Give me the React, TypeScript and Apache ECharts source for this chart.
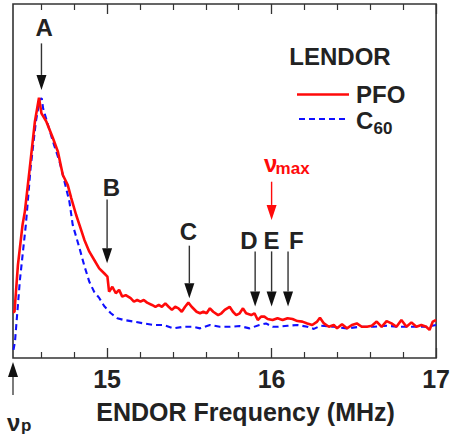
import React, { useEffect, useRef } from "react";
import * as echarts from "echarts";

// ENDOR frequency (MHz) and normalised intensity
const pfoFreq = [
  14.428, 14.437, 14.458, 14.486, 14.5, 14.53, 14.561, 14.586, 14.601, 14.631,
  14.671, 14.701, 14.731, 14.761, 14.782, 14.812, 14.832, 14.862, 14.892, 14.922,
  14.952, 14.982, 15.002, 15.012, 15.032, 15.053, 15.073, 15.092, 15.113, 15.143,
  15.163, 15.183, 15.203, 15.223, 15.243, 15.273, 15.294, 15.314, 15.333, 15.354,
  15.374, 15.394, 15.414, 15.434, 15.454, 15.474, 15.494, 15.514, 15.544, 15.565,
  15.585, 15.605, 15.625, 15.645, 15.675, 15.695, 15.715, 15.745, 15.765, 15.785,
  15.806, 15.826, 15.845, 15.876, 15.896, 15.916, 15.936, 15.956, 15.976, 16.006,
  16.036, 16.067, 16.097, 16.127, 16.157, 16.187, 16.217, 16.247, 16.277, 16.294,
  16.318, 16.348, 16.378, 16.398, 16.428, 16.458, 16.488, 16.518, 16.548, 16.579,
  16.609, 16.639, 16.669, 16.699, 16.729, 16.759, 16.789, 16.82, 16.85, 16.88,
  16.91, 16.94, 16.96, 16.98, 17.0,
];
const pfoIntensity = [
  0.177, 0.177, 0.358, 0.512, 0.563, 0.731, 0.909, 1.001, 0.941, 0.909,
  0.845, 0.793, 0.704, 0.665, 0.615, 0.55, 0.512, 0.454, 0.409, 0.377,
  0.345, 0.326, 0.313, 0.255, 0.274, 0.249, 0.262, 0.236, 0.242, 0.23,
  0.217, 0.223, 0.217, 0.223, 0.213, 0.204, 0.197, 0.204, 0.197, 0.21,
  0.197, 0.185, 0.197, 0.191, 0.178, 0.197, 0.213, 0.197, 0.178, 0.172,
  0.178, 0.172, 0.191, 0.178, 0.165, 0.172, 0.185, 0.197, 0.178, 0.165,
  0.172, 0.191, 0.172, 0.165, 0.172, 0.146, 0.159, 0.159, 0.15, 0.146,
  0.153, 0.146, 0.153, 0.15, 0.142, 0.14, 0.133, 0.127, 0.14, 0.155,
  0.133, 0.12, 0.127, 0.114, 0.13, 0.114, 0.127, 0.133, 0.12, 0.12,
  0.124, 0.14, 0.12, 0.142, 0.133, 0.12, 0.146, 0.12, 0.137, 0.12,
  0.127, 0.12, 0.108, 0.14, 0.146,
];
const c60Freq = [
  14.431, 14.44, 14.47, 14.506, 14.535, 14.567, 14.591, 14.603, 14.611, 14.641,
  14.671, 14.711, 14.751, 14.771, 14.791, 14.832, 14.862, 14.892, 14.922, 14.952,
  14.982, 15.023, 15.062, 15.103, 15.163, 15.223, 15.283, 15.343, 15.404, 15.464,
  15.524, 15.565, 15.625, 15.685, 15.745, 15.806, 15.866, 15.926, 15.966, 16.006,
  16.036, 16.097, 16.157, 16.217, 16.257, 16.297, 16.378, 16.458, 16.538, 16.619,
  16.699, 16.779, 16.86, 16.94, 17.0,
];
const c60Intensity = [
  0.031, 0.063, 0.3, 0.512, 0.731, 0.909, 0.996, 0.998, 0.96, 0.896,
  0.832, 0.755, 0.653, 0.601, 0.512, 0.423, 0.354, 0.293, 0.254, 0.231,
  0.2, 0.172, 0.153, 0.146, 0.14, 0.133, 0.127, 0.127, 0.114, 0.12,
  0.12, 0.114, 0.127, 0.12, 0.12, 0.123, 0.114, 0.127, 0.133, 0.12,
  0.12, 0.124, 0.127, 0.12, 0.112, 0.124, 0.12, 0.114, 0.12, 0.12,
  0.124, 0.12, 0.12, 0.12, 0.127,
];

const xMin = 14.428;
const xMax = 17;
const yMax = 1.3615;
const majorTicks = [15, 16, 17];
const minorTicks = [14.6, 14.8, 15.2, 15.4, 15.6, 15.8, 16.2, 16.4, 16.6, 16.8];

// Annotated features
const markerLabels = ["A", "B", "C", "D", "E", "F"];
const markerFreqs = [14.601, 15.0, 15.5, 15.9, 16.0, 16.1];
const markerTails = [1.21, 0.61, 0.432, 0.41, 0.41, 0.41];
const markerTips = [1.031, 0.364, 0.23, 0.198, 0.198, 0.198];
const markerLabelFreqs = [14.617, 15.026, 15.494, 15.862, 16.0, 16.15];
const markerLabelY = [1.272, 0.657, 0.486, 0.452, 0.452, 0.452];

const numaxFreq = 16.0;
const numaxTail = 0.678;
const numaxTip = 0.531;
const numaxLabelY = 0.741;

const nupFreq = 14.428;
const nupTail = -0.142;
const nupTip = -0.015;
const nupLabelY = -0.25;

const FONT = '"Liberation Sans", Arial, Helvetica, sans-serif';
const INK = "#222";

export default function App() {
  const ref = useRef<HTMLDivElement>(null);

  useEffect(() => {
    if (!ref.current) return;
    const chart = echarts.init(ref.current, null, { renderer: "svg" });

    const baseX = {
      type: "value",
      min: xMin,
      max: xMax,
      splitLine: { show: false },
      axisLine: { show: false },
    };

    chart.setOption({
      animation: false,
      grid: {
        left: 13,
        right: 13,
        top: 4,
        bottom: 77,
        show: true,
        borderColor: "#333",
        borderWidth: 1.6,
        backgroundColor: "transparent",
      },
      xAxis: [
        {
          ...baseX,
          position: "bottom",
          name: "ENDOR Frequency (MHz)",
          nameLocation: "middle",
          nameGap: 41,
          nameTextStyle: {
            fontSize: 25,
            fontWeight: "bold",
            fontFamily: FONT,
            color: INK,
            padding: [0, 0, 0, 42],
          },
          axisTick: {
            show: true,
            inside: true,
            length: 10,
            customValues: majorTicks,
            lineStyle: { color: "#333", width: 1.3 },
          },
          axisLabel: {
            show: true,
            customValues: majorTicks,
            margin: 8,
            fontSize: 25,
            fontWeight: "bold",
            fontFamily: FONT,
            color: INK,
            formatter: (v: number) => String(Math.round(v)),
          },
        },
        {
          ...baseX,
          position: "bottom",
          axisTick: {
            show: true,
            inside: true,
            length: 6,
            customValues: minorTicks,
            lineStyle: { color: "#333", width: 1.2 },
          },
          axisLabel: { show: false },
        },
        {
          ...baseX,
          position: "top",
          axisTick: {
            show: true,
            inside: true,
            length: 10,
            customValues: majorTicks,
            lineStyle: { color: "#333", width: 1.3 },
          },
          axisLabel: { show: false },
        },
        {
          ...baseX,
          position: "top",
          axisTick: {
            show: true,
            inside: true,
            length: 6,
            customValues: minorTicks,
            lineStyle: { color: "#333", width: 1.2 },
          },
          axisLabel: { show: false },
        },
      ],
      yAxis: {
        type: "value",
        min: 0,
        max: yMax,
        show: false,
        splitLine: { show: false },
      },
      series: [
        {
          name: "C60",
          type: "line",
          xAxisIndex: 0,
          symbol: "none",
          showSymbol: false,
          z: 2,
          lineStyle: { color: "#1010ff", width: 2.1, type: [6, 4] },
          data: c60Freq.map((f, i) => [f, c60Intensity[i]]),
        },
        {
          name: "PFO",
          type: "line",
          xAxisIndex: 0,
          symbol: "none",
          showSymbol: false,
          z: 3,
          lineStyle: { color: "#ff0a0a", width: 2.6 },
          data: pfoFreq.map((f, i) => [f, pfoIntensity[i]]),
        },
      ],
    });

    const toPx = (f: number, v: number) =>
      chart.convertToPixel({ xAxisIndex: 0, yAxisIndex: 0 }, [f, v]) as number[];

    const txt = (
      text: string,
      x: number,
      y: number,
      size: number,
      color: string,
      align: string = "center"
    ) => ({
      type: "text",
      x,
      y,
      z: 10,
      style: {
        text,
        fill: color,
        fontSize: size,
        fontWeight: "bold",
        fontFamily: FONT,
        lineHeight: Math.round(size * 0.85),
        textAlign: align,
        align,
        textVerticalAlign: "middle",
        verticalAlign: "middle",
      },
    });

    const arrow = (f: number, tail: number, tip: number, color: string, shaft: string) => {
      const [x, yTail] = toPx(f, tail);
      const [, yTip] = toPx(f, tip);
      const dir = yTip > yTail ? 1 : -1;
      const head = 15;
      return [
        {
          type: "line",
          z: 10,
          shape: { x1: x, y1: yTail, x2: x, y2: yTip - dir * head },
          style: { stroke: shaft, lineWidth: 1.4 },
        },
        {
          type: "polygon",
          z: 10,
          shape: {
            points: [
              [x - 5, yTip - dir * head],
              [x + 5, yTip - dir * head],
              [x, yTip],
            ],
          },
          style: { fill: color },
        },
      ];
    };

    const elements: any[] = [];
    markerLabels.forEach((lab, i) => {
      elements.push(...arrow(markerFreqs[i], markerTails[i], markerTips[i], "#111", "#333"));
      const [lx, ly] = toPx(markerLabelFreqs[i], markerLabelY[i]);
      elements.push(txt(lab, lx, ly, 24, INK));
    });

    // nu_max
    elements.push(...arrow(numaxFreq, numaxTail, numaxTip, "#ff0a0a", "#ff0a0a"));
    {
      const [x, y] = toPx(numaxFreq, numaxLabelY);
      elements.push(txt("ν", x - 7.5, y - 2, 24, "#ff0a0a", "left"));
      elements.push(txt("max", x + 4, y + 3.5, 17, "#ff0a0a", "left"));
    }

    // nu_p
    elements.push(...arrow(nupFreq, nupTail, nupTip, "#111", "#444"));
    {
      const [x, y] = toPx(nupFreq, nupLabelY);
      elements.push(txt("ν", x - 6, y - 1, 24, INK, "left"));
      elements.push(txt("p", x + 8, y + 2, 17, INK, "left"));
    }

    // title and legend
    elements.push(txt("LENDOR", 340, 56, 24, INK));
    elements.push({
      type: "line",
      z: 10,
      shape: { x1: 297, y1: 94.5, x2: 349, y2: 94.5 },
      style: { stroke: "#ff0a0a", lineWidth: 2.6 },
    });
    elements.push(txt("PFO", 356, 94, 24, INK, "left"));
    elements.push({
      type: "line",
      z: 10,
      shape: { x1: 299, y1: 119, x2: 349, y2: 119 },
      style: { stroke: "#1010ff", lineWidth: 2.1, lineDash: [6, 4] },
    });
    elements.push(txt("C", 356, 120.5, 24, INK, "left"));
    elements.push(txt("60", 373.5, 128, 17, INK, "left"));

    chart.setOption({ graphic: elements });

    return () => chart.dispose();
  }, []);

  return (
    <div
      ref={ref}
      style={{ position: "fixed", left: 0, top: 0, width: 453, height: 435, background: "#fff" }}
    />
  );
}
